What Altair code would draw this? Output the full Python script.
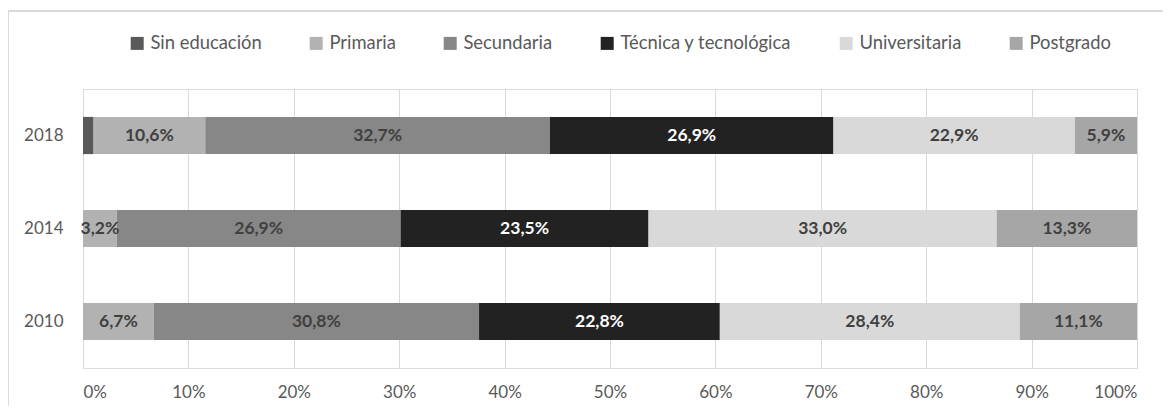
import altair as alt
import pandas as pd

years = ["2018", "2014", "2010"]
levels = ["Sin educación", "Primaria", "Secundaria", "Técnica y tecnológica", "Universitaria", "Postgrado"]
colors = ["#595959", "#b2b2b2", "#878787", "#222222", "#d9d9d9", "#a6a6a6"]
v2018 = [1.0, 10.6, 32.7, 26.9, 22.9, 5.9]
v2014 = [0.0, 3.2, 26.9, 23.5, 33.0, 13.3]
v2010 = [0.0, 6.7, 30.8, 22.8, 28.4, 11.1]
x_ticks = [0, 0.1, 0.2, 0.3, 0.4, 0.5, 0.6, 0.7, 0.8, 0.9, 1.0]

rows = []
for yr, vals in zip(years, [v2018, v2014, v2010]):
    for i, (lv, v) in enumerate(zip(levels, vals)):
        rows.append({"year": yr, "level": lv, "order": i, "value": v})
df = pd.DataFrame(rows)

FONT = "Lato"

base = alt.Chart(df).transform_stack(
    stack="value", groupby=["year"], as_=["x0", "x1"], offset="normalize",
    sort=[alt.SortField("order", "ascending")]
).transform_calculate(
    mid="(datum.x0 + datum.x1) / 2",
    label="replace(format(datum.value, '.1f'), '.', ',') + '%'"
)

yenc = alt.Y("year:N", sort=years, title=None,
             scale=alt.Scale(paddingInner=0.6, paddingOuter=0.3),
             axis=alt.Axis(domain=False, ticks=False, labelPadding=20,
                           labelFontSize=17, labelColor="#595959", labelFont=FONT))

bars = base.mark_bar().encode(
    x=alt.X("x0:Q", title=None, scale=alt.Scale(domain=[0, 1], nice=False),
            axis=alt.Axis(values=x_ticks, format=".0%", domain=False, ticks=False,
                          grid=True, gridColor="#d9d9d9", labelPadding=16,
                          labelFontSize=17, labelColor="#595959", labelFont=FONT)),
    x2="x1:Q",
    y=yenc,
    color=alt.Color("level:N", sort=levels,
                    scale=alt.Scale(domain=levels, range=colors),
                    legend=alt.Legend(title=None, orient="none", legendX=45, legendY=-55,
                                      direction="horizontal", symbolType="square",
                                      symbolSize=169, symbolStrokeWidth=0,
                                      labelFontSize=18.4, labelFont=FONT, labelColor="#595959",
                                      labelOffset=4, columnPadding=45, labelLimit=400)),
)

texts = base.transform_filter("datum.value >= 2").mark_text(
    fontSize=17.5, fontWeight="bold", font=FONT
).encode(
    x="mid:Q",
    y=alt.Y("year:N", sort=years),
    text="label:N",
    color=alt.condition(alt.datum.level == "Técnica y tecnológica",
                        alt.value("white"), alt.value("#404040")),
)

frame_top = alt.Chart(df).mark_rule(color="#d9d9d9", strokeWidth=1).encode(
    x=alt.value(-75), x2=alt.value(1090), y=alt.value(-78))
frame_left = alt.Chart(df).mark_rule(color="#d9d9d9", strokeWidth=1).encode(
    x=alt.value(-75), y=alt.value(-78), y2=alt.value(320))

chart = alt.layer(frame_top, frame_left, bars, texts).properties(
    width=1054, height=279,
    padding={"left": 75, "top": 81, "right": 26, "bottom": 38},
    autosize=alt.AutoSizeParams(type="none"),
).configure_view(stroke=None).configure(background="white")

chart.save("out.html", embed_options={"renderer": "svg", "actions": False})
